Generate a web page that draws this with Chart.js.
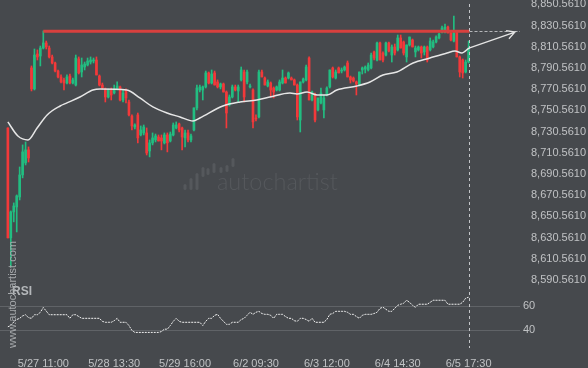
<!DOCTYPE html>
<html>
<head>
<meta charset="utf-8">
<script src="https://cdn.jsdelivr.net/npm/chart.js@4.4.1/dist/chart.umd.min.js"></script>
<style>
  html, body { margin: 0; padding: 0; background: #46494d; }
  #wrap { position: relative; width: 588px; height: 368px; }
</style>
</head>
<body>
<div id="wrap"><canvas id="chart" width="588" height="368"></canvas></div>
<script>
// one entry per bar, bar number = array index
const openP = [8734.0,8630.3,8654.8,8659.5,8668.9,8689.7,8701.0,8713.3,8790.6,8770.8,
  8803.8,8801.9,8809.4,8814.2,8809.4,8801.0,8795.3,8787.7,8782.1,8779.3,
  8776.4,8783.0,8776.4,8774.5,8799.1,8786.8,8791.5,8793.4,8796.2,8797.2,
  8798.1,8783.0,8774.5,8770.8,8763.2,8769.8,8767.0,8770.8,8772.7,8760.4,
  8769.8,8758.5,8745.3,8734.9,8746.3,8727.4,8729.3,8729.3,8712.3,8719.9,
  8722.7,8725.5,8724.6,8719.9,8727.4,8721.7,8727.4,8734.0,8737.8,8734.0,
  8724.6,8729.3,8722.7,8732.1,8752.9,8769.8,8769.8,8772.7,8785.9,8776.4,
  8785.9,8777.4,8772.7,8775.5,8767.9,8755.7,8763.2,8772.7,8768.9,8779.3,
  8786.8,8777.4,8772.7,8769.8,8743.4,8744.4,8786.8,8781.1,8773.6,8776.4,
  8771.7,8769.8,8769.8,8776.4,8781.1,8781.1,8781.1,8779.3,8774.5,8741.5,
  8777.4,8779.3,8800.0,8760.4,8765.1,8751.0,8757.6,8751.0,8765.1,8772.7,
  8790.6,8781.1,8790.6,8787.7,8788.7,8795.3,8782.1,8781.1,8777.4,8774.5,
  8788.7,8789.6,8788.7,8790.6,8805.7,8798.1,8814.2,8804.7,8802.8,8814.2,
  8802.8,8810.4,8807.6,8818.9,8815.1,8801.0,8812.3,8817.0,8805.7,8807.6,
  8810.4,8805.7,8810.4,8807.6,8810.4,8815.1,8818.9,8824.5,8824.5,8829.2,
  8823.6,8816.0,8824.5,8801.0,8798.1,8786.8,8796.2];
const highP = [8734.0,8655.7,8663.3,8670.8,8697.2,8718.0,8720.8,8716.1,8792.5,8808.5,
  8807.6,8811.3,8825.5,8816.0,8811.3,8802.8,8796.2,8788.7,8784.0,8781.1,
  8784.0,8784.9,8781.1,8802.8,8801.0,8800.0,8796.2,8800.0,8801.0,8800.0,
  8801.0,8784.0,8776.4,8771.7,8770.8,8771.7,8774.5,8777.4,8773.6,8769.8,
  8770.8,8760.4,8746.3,8737.8,8748.1,8735.9,8736.8,8734.0,8722.7,8729.3,
  8728.3,8727.4,8727.4,8729.3,8729.3,8730.2,8738.7,8739.7,8738.7,8734.9,
  8732.1,8732.1,8728.3,8752.9,8774.5,8774.5,8773.6,8787.7,8786.8,8788.7,
  8787.7,8779.3,8776.4,8776.4,8768.9,8765.1,8774.5,8774.5,8774.5,8791.5,
  8788.7,8788.7,8775.5,8770.8,8746.3,8788.7,8788.7,8782.1,8779.3,8777.4,
  8772.7,8773.6,8779.3,8788.7,8782.1,8786.8,8782.1,8780.2,8775.5,8777.4,
  8781.1,8793.4,8801.0,8768.9,8767.0,8762.3,8771.7,8765.1,8772.7,8788.7,
  8791.5,8788.7,8791.5,8790.6,8792.5,8797.2,8783.0,8782.1,8778.3,8786.8,
  8791.5,8792.5,8795.3,8804.7,8806.6,8815.1,8815.1,8805.7,8815.1,8815.1,
  8812.3,8813.2,8821.7,8821.7,8816.0,8812.3,8819.8,8817.9,8811.3,8811.3,
  8811.3,8811.3,8811.3,8818.9,8817.0,8820.8,8823.6,8830.2,8832.1,8830.2,
  8824.5,8839.6,8825.5,8801.9,8799.1,8798.1,8816.0];
const lowP = [8630.3,8602.9,8645.4,8635.9,8666.1,8686.9,8699.1,8701.9,8768.9,8769.8,
  8798.1,8792.5,8808.5,8808.5,8800.0,8794.3,8786.8,8781.1,8776.4,8769.8,
  8775.5,8775.5,8775.5,8773.6,8784.9,8782.1,8788.7,8792.5,8794.3,8795.3,
  8784.0,8773.6,8770.8,8758.5,8762.3,8760.4,8766.1,8769.8,8759.5,8758.5,
  8757.6,8745.3,8732.1,8733.1,8719.9,8726.5,8727.4,8708.5,8706.7,8718.0,
  8720.8,8721.7,8713.3,8718.9,8711.4,8720.8,8726.5,8733.1,8730.2,8713.3,
  8716.1,8720.8,8720.8,8731.2,8751.0,8767.9,8760.4,8771.7,8775.5,8775.5,
  8774.5,8771.7,8770.8,8767.9,8734.0,8754.7,8762.3,8768.9,8758.5,8778.3,
  8758.5,8775.5,8771.7,8734.0,8740.6,8743.4,8782.1,8774.5,8772.7,8763.2,
  8762.3,8768.9,8768.9,8775.5,8776.4,8780.2,8779.3,8774.5,8741.5,8730.2,
  8776.4,8778.3,8760.4,8759.5,8739.7,8750.0,8756.6,8743.4,8764.2,8771.7,
  8781.1,8780.2,8785.9,8785.9,8787.7,8782.1,8776.4,8777.4,8765.1,8773.6,
  8784.9,8785.9,8787.7,8789.6,8798.1,8797.2,8798.1,8796.2,8801.9,8805.7,
  8796.2,8802.8,8806.6,8809.4,8802.8,8796.2,8811.3,8810.4,8801.0,8806.6,
  8800.0,8802.8,8796.2,8806.6,8809.4,8814.2,8817.9,8823.6,8823.6,8823.6,
  8816.0,8815.1,8801.0,8782.1,8781.1,8785.9,8795.3];
const closeP = [8630.3,8654.8,8660.4,8669.9,8689.7,8711.4,8713.3,8705.7,8770.8,8802.8,
  8801.0,8809.4,8814.2,8810.4,8801.0,8795.3,8787.7,8782.1,8777.4,8776.4,
  8782.1,8776.4,8779.3,8800.0,8785.9,8793.4,8794.3,8797.2,8798.1,8798.1,
  8784.0,8774.5,8771.7,8763.2,8769.8,8765.1,8770.8,8773.6,8760.4,8767.0,
  8762.3,8746.3,8735.9,8736.8,8724.6,8732.1,8734.9,8710.4,8719.9,8724.6,
  8726.5,8721.7,8721.7,8727.4,8719.9,8728.3,8736.8,8736.8,8732.1,8725.5,
  8729.3,8722.7,8726.5,8752.9,8771.7,8772.7,8772.7,8785.9,8776.4,8784.9,
  8774.5,8772.7,8775.5,8767.9,8748.1,8763.2,8772.7,8769.8,8772.7,8788.7,
  8763.2,8786.8,8773.6,8739.7,8742.5,8786.8,8782.1,8774.5,8777.4,8769.8,
  8767.9,8772.7,8777.4,8781.1,8776.4,8785.9,8779.3,8774.5,8744.4,8777.4,
  8780.2,8791.5,8760.4,8767.9,8741.5,8762.3,8767.0,8762.3,8771.7,8788.7,
  8782.1,8786.8,8785.9,8788.7,8791.5,8782.1,8779.3,8778.3,8775.5,8786.8,
  8790.6,8791.5,8793.4,8802.8,8800.0,8814.2,8798.1,8798.1,8814.2,8806.6,
  8810.4,8804.7,8818.9,8809.4,8804.7,8812.3,8819.8,8810.4,8809.4,8810.4,
  8804.7,8810.4,8798.1,8816.0,8815.1,8819.8,8822.6,8828.3,8829.2,8823.6,
  8817.0,8823.6,8801.0,8786.8,8785.9,8796.2,8809.4];

// moving average, read at a few bar positions
const maIdx = [0,3.4,6.8,9.9,13.3,17.7,20,24.4,28.8,31.2,40.3,44.7,49.1,53.9,58.3,62.7,65,
  72.8,78.6,84.3,88.7,95.5,97.9,101.3,104.7,108,111.4,118.2,122.6,127,131.7,137.2,142.9,148.7,151.4,153.7,156.1];
const maVal = [8739.7,8726.4,8722.7,8734.0,8746.3,8754.7,8757.6,8763.2,8769.8,8770.8,8769.8,8762.3,8753.8,8748.1,8744.4,8740.6,8743.4,
  8754.7,8758.5,8760.4,8763.2,8767.0,8766.1,8767.9,8765.1,8765.1,8769.8,8773.6,8777.4,8784.0,8786.8,8795.3,8800.0,8804.7,8806.6,8804.7,8809.4];

const rsiVal = [43,44,47,49,50,52,53,50.5,50,53,53,55,59,56,53,53,53,53,53,53,
  53,50,53,53,51.5,50,50,50,50,50,50,50,47.5,46.7,46.7,46.7,48,50,46.7,46.7,
  46.7,44,40,38.3,38.3,38.3,38.3,38.3,38.3,38.3,38.3,38.3,39,41,41,44,47.5,50,47.5,46.7,
  46.7,46.7,46.7,46.7,46.7,46.7,44,47.5,50,50,52.5,53.3,50,47.5,45,45,46.7,46.7,46.7,49,
  50,52.5,55,53.3,55,55.8,54,53.3,53.3,52.5,50,53.3,53.3,53.3,51.5,50,50,48,47.5,50,
  50,49,47.5,50,46.7,46.7,46.7,46.7,49,53.3,54,55.8,55.8,55.8,55.8,55,53.3,53.3,51.5,50,
  52.5,53.3,53.3,53.3,54,55,58.3,59.2,57.5,55.8,55.8,58.3,60.8,61.7,62.5,65,63.3,60.8,59.2,61.7,
  61.7,61.7,61.7,63.3,65,65,65,65,65,61.7,61.7,61.7,61.7,61.7,63.3,66.7,67.5];

const tickIdx = [12, 36, 60, 84, 108, 132, 156];
const tickLabels = ['5/27 11:00', '5/28 13:30', '5/29 16:00', '6/2 09:30', '6/3 12:00', '6/4 14:30', '6/5 17:30'];
const priceTicks = [8590.561, 8610.561, 8630.561, 8650.561, 8670.561, 8690.561, 8710.561,
  8730.561, 8750.561, 8770.561, 8790.561, 8810.561, 8830.561, 8850.561];
const rsiTicks = [40, 60];

const resistance = 8825.2;
const resStart = 12;
const nowIdx = 156.2;
const projFrom = [156.1, 8809.4];
const projTo = [171.7, 8824.5];

const UP = '#22bd81', DOWN = '#f2393a';
const tickColor = '#c0c2c4';
const tickFont = { family: 'Liberation Sans, Arial, sans-serif', size: 11 };

const wicks = [], bodies = [], candleColors = [];
for (let i = 0; i < openP.length; i++) {
  const o = openP[i], c = closeP[i];
  wicks.push({ x: i, y: [lowP[i], highP[i]] });
  bodies.push({ x: i, y: [Math.min(o, c), Math.max(o, c)] });
  candleColors.push(c >= o ? UP : DOWN);
}
const maData = maIdx.map((v, k) => ({ x: v, y: maVal[k] }));
const rsiData = rsiVal.map((v, i) => ({ x: i, y: v }));

const overlay = {
  id: 'overlay',
  beforeDatasetsDraw(chart) {
    const ctx = chart.ctx;
    ctx.save();
    // autochartist watermark
    ctx.fillStyle = '#55585c';
    const logo = [[185, 184, 190], [191, 178, 190], [197, 173, 190], [203, 167, 177],
      [208, 168, 175], [214, 163, 173], [221, 167, 173], [227, 165, 172], [233, 158, 167]];
    logo.forEach(b => {
      ctx.beginPath();
      ctx.roundRect(b[0] - 1.5, b[1], 3, b[2] - b[1], 1.5);
      ctx.fill();
    });
    ctx.font = '300 20px Lato, sans-serif';
    const w = ctx.measureText('autochartist').width;
    const size = 20 * 121 / w;
    ctx.font = '300 ' + size.toFixed(1) + 'px Lato, sans-serif';
    ctx.textBaseline = 'alphabetic';
    ctx.fillText('autochartist', 217, 190);
    ctx.restore();
  },
  afterDatasetsDraw(chart) {
    const { ctx, chartArea } = chart;
    const x = chart.scales.x, y = chart.scales.y, rsi = chart.scales.rsi;
    const ry = y.getPixelForValue(resistance);
    const xNow = Math.round(x.getPixelForValue(nowIdx)) + 0.5;
    ctx.save();
    // resistance
    ctx.strokeStyle = '#d8403e';
    ctx.lineWidth = 3;
    ctx.beginPath();
    ctx.moveTo(x.getPixelForValue(resStart), ry);
    ctx.lineTo(xNow, ry);
    ctx.stroke();
    // continuation
    ctx.setLineDash([3, 2]);
    ctx.lineWidth = 1;
    ctx.strokeStyle = '#b4b6b9';
    ctx.beginPath();
    ctx.moveTo(xNow, Math.round(ry) + 0.5);
    ctx.lineTo(chartArea.right, Math.round(ry) + 0.5);
    ctx.stroke();
    // current time line
    ctx.setLineDash([3, 3]);
    ctx.strokeStyle = '#c4c6c9';
    ctx.beginPath();
    ctx.moveTo(xNow, y.top + 4);
    ctx.lineTo(xNow, chartArea.bottom + 8);
    ctx.stroke();
    ctx.setLineDash([]);
    // projection arrow
    const ax0 = x.getPixelForValue(projFrom[0]), ay0 = y.getPixelForValue(projFrom[1]);
    const ax1 = x.getPixelForValue(projTo[0]), ay1 = y.getPixelForValue(projTo[1]);
    const ang = Math.atan2(ay1 - ay0, ax1 - ax0);
    ctx.strokeStyle = '#e4e4e4';
    ctx.lineWidth = 1.3;
    ctx.beginPath();
    ctx.moveTo(ax0, ay0);
    ctx.lineTo(ax1, ay1);
    ctx.moveTo(ax1 - 9 * Math.cos(ang - 0.5), ay1 - 9 * Math.sin(ang - 0.5));
    ctx.lineTo(ax1, ay1);
    ctx.lineTo(ax1 - 9 * Math.cos(ang + 0.5), ay1 - 9 * Math.sin(ang + 0.5));
    ctx.stroke();
    // RSI caption
    ctx.fillStyle = '#b4b7ba';
    ctx.font = 'bold 12px Liberation Sans, Arial, sans-serif';
    ctx.textBaseline = 'middle';
    ctx.fillText('RSI', 12, rsi.top + 5);
    // vertical site text
    ctx.translate(13, 348);
    ctx.rotate(-Math.PI / 2);
    ctx.fillStyle = '#a6a9ac';
    ctx.font = '11px Liberation Sans, Arial, sans-serif';
    ctx.fillText('www.autochartist.com', 0, 0);
    ctx.restore();
  }
};

new Chart(document.getElementById('chart'), {
  type: 'bar',
  data: {
    datasets: [
      { type: 'line', data: maData, yAxisID: 'y', borderColor: '#e6e6e6', borderWidth: 1.5,
        pointRadius: 0, cubicInterpolationMode: 'monotone' },
      { type: 'bar', data: bodies, yAxisID: 'y', backgroundColor: candleColors,
        barThickness: 2, grouped: false, minBarLength: 1 },
      { type: 'bar', data: wicks, yAxisID: 'y', backgroundColor: candleColors,
        barThickness: 1, grouped: false },
      { type: 'line', data: rsiData, yAxisID: 'rsi', borderColor: '#f2f2f2', borderWidth: 1,
        borderDash: [2, 1], pointRadius: 0 }
    ]
  },
  options: {
    responsive: false,
    animation: false,
    devicePixelRatio: 1,
    layout: { padding: 0, autoPadding: false },
    plugins: { legend: { display: false }, tooltip: { enabled: false } },
    scales: {
      x: {
        type: 'linear', min: -2.66, max: 173.4, offset: false,
        grid: { display: false, offset: false }, border: { display: false },
        afterBuildTicks: s => { s.ticks = tickIdx.map(v => ({ value: v })); },
        afterFit: s => { s.height = 28; s.paddingLeft = 0; s.paddingRight = 0; },
        ticks: { autoSkip: false, maxRotation: 0, color: tickColor, font: tickFont, padding: 9,
          callback: v => tickLabels[tickIdx.indexOf(v)] }
      },
      y: {
        position: 'right', stack: 'panes', stackWeight: 287,
        min: 8583.96, max: 8854.71,
        grid: { display: false }, border: { display: false },
        afterBuildTicks: s => { s.ticks = priceTicks.map(v => ({ value: v })); },
        afterFit: s => { s.width = 68; s.paddingTop = 0; s.paddingBottom = 0; },
        ticks: { autoSkip: false, color: tickColor, font: tickFont, padding: 3,
          callback: v => v.toLocaleString('en-US', { minimumFractionDigits: 4, maximumFractionDigits: 4 }) }
      },
      rsi: {
        position: 'right', stack: 'panes', stackWeight: 53,
        min: 32, max: 76,
        grid: { color: '#606367', drawTicks: false }, border: { display: false },
        afterBuildTicks: s => { s.ticks = rsiTicks.map(v => ({ value: v })); },
        afterFit: s => { s.width = 68; s.paddingTop = 0; s.paddingBottom = 0; },
        ticks: { autoSkip: false, color: tickColor, font: tickFont, padding: 3 }
      }
    }
  },
  plugins: [overlay]
});
</script>
</body>
</html>
